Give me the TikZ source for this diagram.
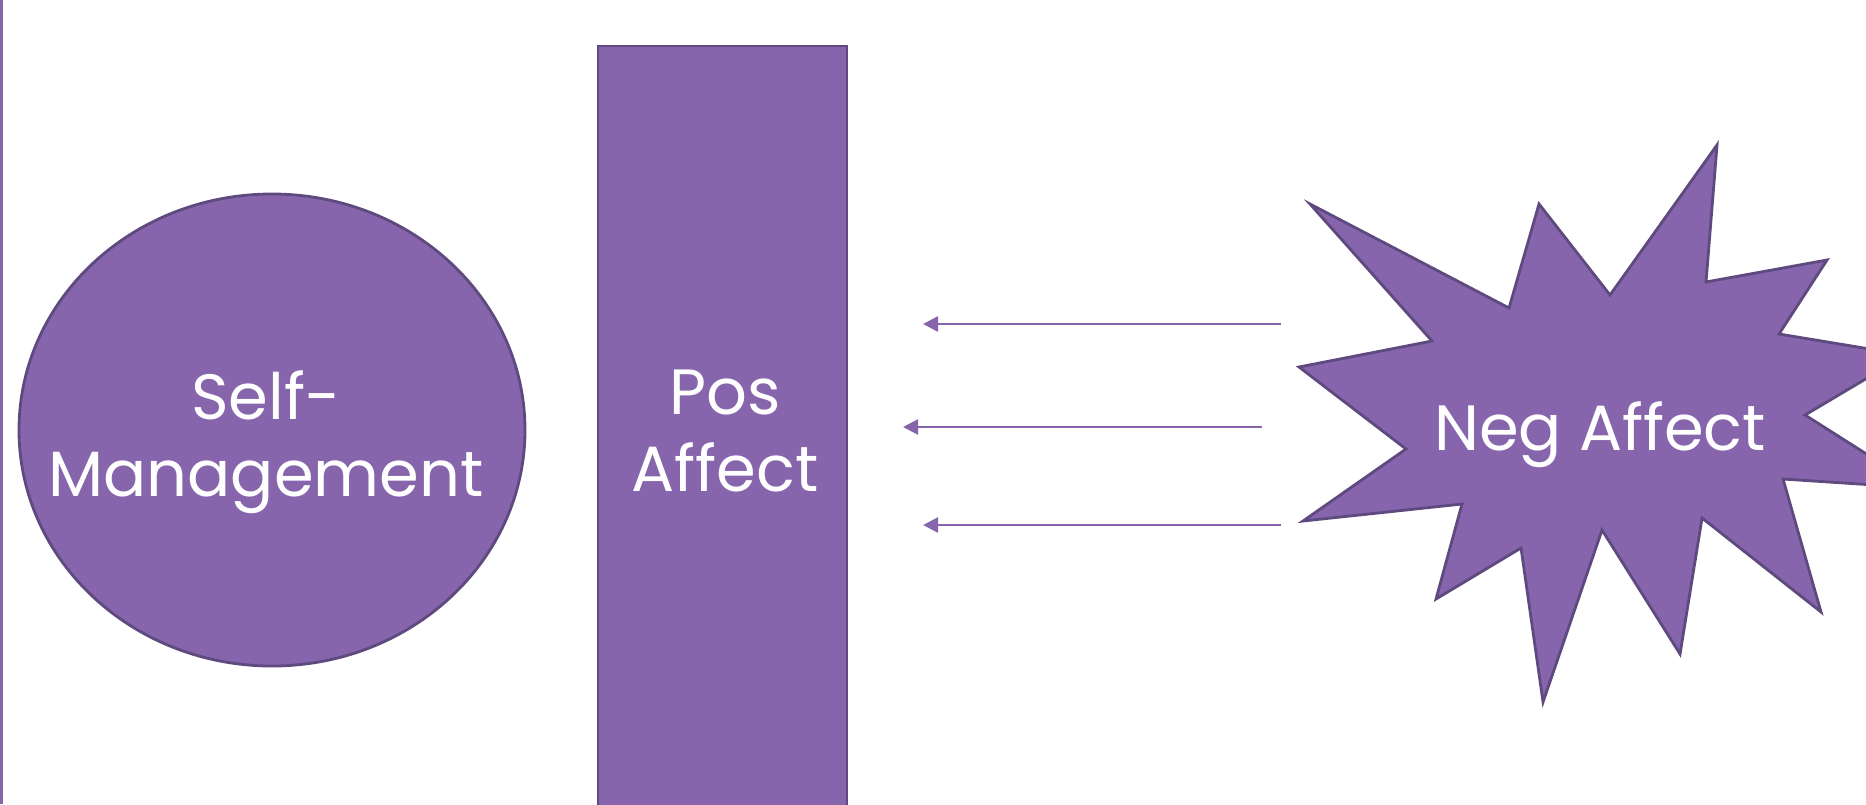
\documentclass[tikz,border=0pt]{standalone}
\usepackage{fontspec}
\setmainfont{Poppins}
\usepackage{xcolor}
\usepackage{tikz}
\usetikzlibrary{positioning,shapes.geometric,arrows.meta}

\definecolor{plum}{HTML}{8665AD}
\definecolor{plumline}{HTML}{5E4A7E}
\tikzset{
  shapebox/.style={fill=plum,draw=plumline,line width=0.8pt,inner sep=0pt},
  lbl/.style={text=white,align=center,inner sep=0pt,font=\fontsize{18.2}{21.8}\selectfont},
  arr/.style={draw=plum,line width=0.7pt,-{Triangle[length=0.15cm,width=0.15cm,fill=plum]}}
}

\begin{document}
\begin{tikzpicture}
\useasboundingbox (0,0) rectangle (18.66,8.04);
\clip (0,0) rectangle (18.66,8.04);
\draw[plum,line width=0.85pt] (0.015,0) -- (0.015,8.04);

\node[shapebox,ellipse,minimum width=5.06cm,minimum height=4.72cm] (selfman) at (2.72,3.74) {};
\node[shapebox,rectangle,minimum width=2.49cm,minimum height=8.2cm] (posaff) at (7.225,3.48) {};
\draw[shapebox] (13.10,6.00) -- (15.09,4.96) -- (15.39,6.00) -- (16.10,5.09)
  -- (17.17,6.59) -- (17.06,5.22) -- (18.27,5.44) -- (17.79,4.70)
  -- (19.06,4.49) -- (18.05,3.89) -- (19.20,3.16) -- (17.83,3.25)
  -- (18.21,1.92) -- (17.02,2.86) -- (16.80,1.50) -- (16.02,2.74)
  -- (15.43,1.02) -- (15.21,2.56) -- (14.36,2.05) -- (14.62,3.00)
  -- (13.03,2.83) -- (14.06,3.55) -- (12.99,4.37) -- (14.32,4.63) -- cycle;

\node[lbl,anchor=base] (selfmantext) at (2.66,3.08) {Self-\\Management};
\node[lbl,anchor=base] (posafftext) at (7.25,3.13) {Pos\\Affect};
\node[lbl,anchor=base] (negafftext) at (16.00,3.54) {Neg Affect};

\coordinate (topstart) at (12.81,4.80);
\coordinate (topend) at (9.23,4.80);
\coordinate (midstart) at (12.62,3.77);
\coordinate (midend) at (9.03,3.77);
\coordinate (lowstart) at (12.81,2.79);
\coordinate (lowend) at (9.23,2.79);

\draw[arr] (topstart) -- (topend);
\draw[arr] (midstart) -- (midend);
\draw[arr] (lowstart) -- (lowend);

\end{tikzpicture}
\end{document}
